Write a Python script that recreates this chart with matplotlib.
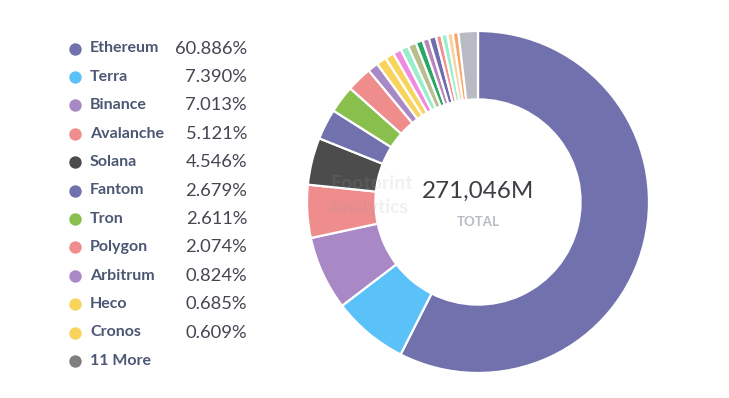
import matplotlib.pyplot as plt

plt.rcParams['font.family'] = ['Lato', 'DejaVu Sans']

# legend entries (as printed)
legend_names = ["Ethereum", "Terra", "Binance", "Avalanche", "Solana", "Fantom",
                "Tron", "Polygon", "Arbitrum", "Heco", "Cronos", "11 More"]
legend_pcts = ["60.886%", "7.390%", "7.013%", "5.121%", "4.546%", "2.679%",
               "2.611%", "2.074%", "0.824%", "0.685%", "0.609%", ""]
legend_colors = ["#7172AD", "#5BC2F9", "#A989C5", "#EF8C8C", "#4C4C4C", "#7172AD",
                 "#88BF4D", "#EF8C8C", "#A989C5", "#F9D45C", "#F9D45C", "#7F7F7F"]

# ring shares as drawn (small slices get a minimum angle in the original)
slice_values = [57.5, 7.15, 7.0, 5.0, 4.45, 2.9, 2.6, 2.4, 1.0, 0.95, 0.85,
                0.78, 0.75, 0.78, 0.67, 0.62, 0.67, 0.53, 0.55, 0.53, 0.53, 1.83]
slice_colors = legend_colors[:11] + ["#F08CE0", "#98EECC", "#B8BE8C", "#28A864",
                                     "#B886BA", "#6D6DB0", "#F29090", "#98EECC",
                                     "#F9D2A0", "#F8A66A", "#B8BAC4"]

total_label = "271,046M"

W, H = 729, 398
fig = plt.figure(figsize=(W / 100, H / 100), dpi=100)
ax = fig.add_axes([0, 0, 1, 1])

R = 171
cx, cy = 478, H - 202
ax.pie(slice_values, colors=slice_colors, startangle=90, counterclock=False,
       radius=R, center=(cx, cy),
       wedgeprops=dict(width=R * 0.4, edgecolor="white", linewidth=1.6))

ax.set_xlim(0, W)
ax.set_ylim(0, H)
ax.set_aspect("equal")
ax.axis("off")

# faint watermark (kept clear of the total label)
ax.text(372, H - 184, "Footprint", ha="center", va="center", fontsize=14,
        fontweight="bold", color="#9aa0a8", alpha=0.15, zorder=5)
ax.text(368, H - 208, "Analytics", ha="center", va="center", fontsize=14,
        fontweight="bold", color="#9aa0a8", alpha=0.15, zorder=5)

ax.text(cx, H - 191, total_label, ha="center", va="center", fontsize=17.5,
        color="#3E3E44", zorder=6)
ax.text(cx, H - 222, "TOTAL", ha="center", va="center", fontsize=9.5,
        fontweight="bold", color="#B8BBC3", zorder=6)

# legend
for i, (name, pct, col) in enumerate(zip(legend_names, legend_pcts, legend_colors)):
    y = H - (48.5 + 28.4 * i)
    ax.scatter([75], [y], s=80, color=col, linewidths=0, zorder=6)
    ax.text(90, y, name, ha="left", va="center", fontsize=11.5,
            fontweight="bold", color="#4C5773")
    if pct:
        ax.text(247, y, pct, ha="right", va="center", fontsize=13.2,
                color="#444652")

fig.savefig("out.png", dpi=100)
